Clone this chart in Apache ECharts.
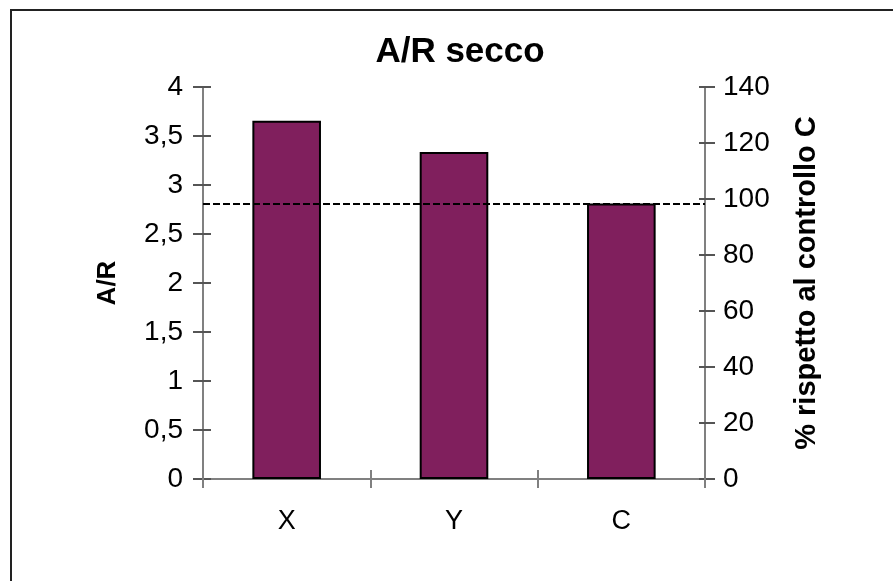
<!DOCTYPE html>
<html>
<head>
<meta charset="utf-8">
<script src="https://cdn.jsdelivr.net/npm/echarts@6/dist/echarts.min.js"></script>
<style>
  html, body { margin: 0; padding: 0; background: #fff; }
  #chart { width: 893px; height: 581px; }
</style>
</head>
<body>
<div id="chart"></div>
<script>
// A/R ratio (dry weight) per treatment, with the control C as reference
const categories = ['X', 'Y', 'C'];
const arValues = [3.655, 3.338, 2.81];
const controlValue = 2.81;          // control level = 100 %
const leftTicks = { min: 0, max: 4, interval: 0.5 };
const rightTicks = { min: 0, max: 140, interval: 20 };

const FONT = '"Liberation Sans", Arial, sans-serif';
const AXIS_GREY = '#808080';

const chart = echarts.init(document.getElementById('chart'), null, { renderer: 'canvas' });

const commaFmt = v => String(v).replace('.', ',');

chart.setOption({
  animation: false,
  backgroundColor: '#fff',
  title: {
    text: 'A/R secco',
    left: 455,
    top: 30,
    textAlign: 'center',
    textStyle: { fontFamily: FONT, fontSize: 35, fontWeight: 'bold', color: '#000' }
  },
  graphic: [{
    type: 'rect',
    shape: { x: 11, y: 10, width: 1000, height: 800 },
    style: { fill: 'none', stroke: '#222', lineWidth: 2 },
    silent: true
  }],
  grid: { left: 203, right: 188, top: 87, bottom: 102 },
  xAxis: [{
    type: 'category',
    data: categories,
    axisLine: { lineStyle: { color: AXIS_GREY, width: 2 } },
    axisTick: { show: true, length: 9, lineStyle: { color: AXIS_GREY, width: 2 } },
    axisLabel: { fontFamily: FONT, fontSize: 27, color: '#000', margin: 29 }
  }, {
    // inner half of the crossing category ticks
    type: 'category',
    data: categories,
    position: 'bottom',
    axisLine: { show: false },
    axisTick: { show: true, inside: true, length: 9, lineStyle: { color: AXIS_GREY, width: 2 } },
    axisLabel: { show: false }
  }],
  yAxis: [{
    type: 'value',
    position: 'left',
    min: leftTicks.min, max: leftTicks.max, interval: leftTicks.interval,
    name: 'A/R',
    nameLocation: 'middle',
    nameGap: 82,
    nameRotate: 90,
    nameTextStyle: { fontFamily: FONT, fontSize: 26, fontWeight: 'bold', color: '#000' },
    axisLine: { show: true, lineStyle: { color: AXIS_GREY, width: 2 } },
    axisTick: { show: true, length: 10, lineStyle: { color: '#555', width: 2 } },
    axisLabel: { fontFamily: FONT, fontSize: 28, color: '#000', margin: 20, formatter: commaFmt },
    splitLine: { show: false }
  }, {
    type: 'value',
    position: 'right',
    min: rightTicks.min, max: rightTicks.max, interval: rightTicks.interval,
    name: '% rispetto al controllo C',
    nameLocation: 'middle',
    nameGap: 87,
    nameRotate: 90,
    nameTextStyle: { fontFamily: FONT, fontSize: 29, fontWeight: 'bold', color: '#000' },
    axisLine: { show: true, lineStyle: { color: AXIS_GREY, width: 2 } },
    axisTick: { show: true, length: 10, lineStyle: { color: '#555', width: 2 } },
    axisLabel: { fontFamily: FONT, fontSize: 28, color: '#000', margin: 18 },
    splitLine: { show: false }
  }, {
    // inner halves of the crossing value ticks (left)
    type: 'value',
    position: 'left',
    min: leftTicks.min, max: leftTicks.max, interval: leftTicks.interval,
    axisLine: { show: false },
    axisTick: { show: true, inside: true, length: 8, lineStyle: { color: '#555', width: 2 } },
    axisLabel: { show: false },
    splitLine: { show: false }
  }, {
    // inner halves of the crossing value ticks (right)
    type: 'value',
    position: 'right',
    min: rightTicks.min, max: rightTicks.max, interval: rightTicks.interval,
    axisLine: { show: false },
    axisTick: { show: true, inside: true, length: 6, lineStyle: { color: '#555', width: 2 } },
    axisLabel: { show: false },
    splitLine: { show: false }
  }],
  series: [{
    type: 'bar',
    data: arValues,
    xAxisIndex: 0,
    yAxisIndex: 0,
    barWidth: '41%',
    itemStyle: { color: '#801F5D', borderColor: '#000', borderWidth: 2 },
    markLine: {
      silent: true,
      symbol: 'none',
      label: { show: false },
      lineStyle: { color: '#000', type: [7, 3], width: 2 },
      data: [{ yAxis: controlValue }]
    }
  }]
});
</script>
</body>
</html>
